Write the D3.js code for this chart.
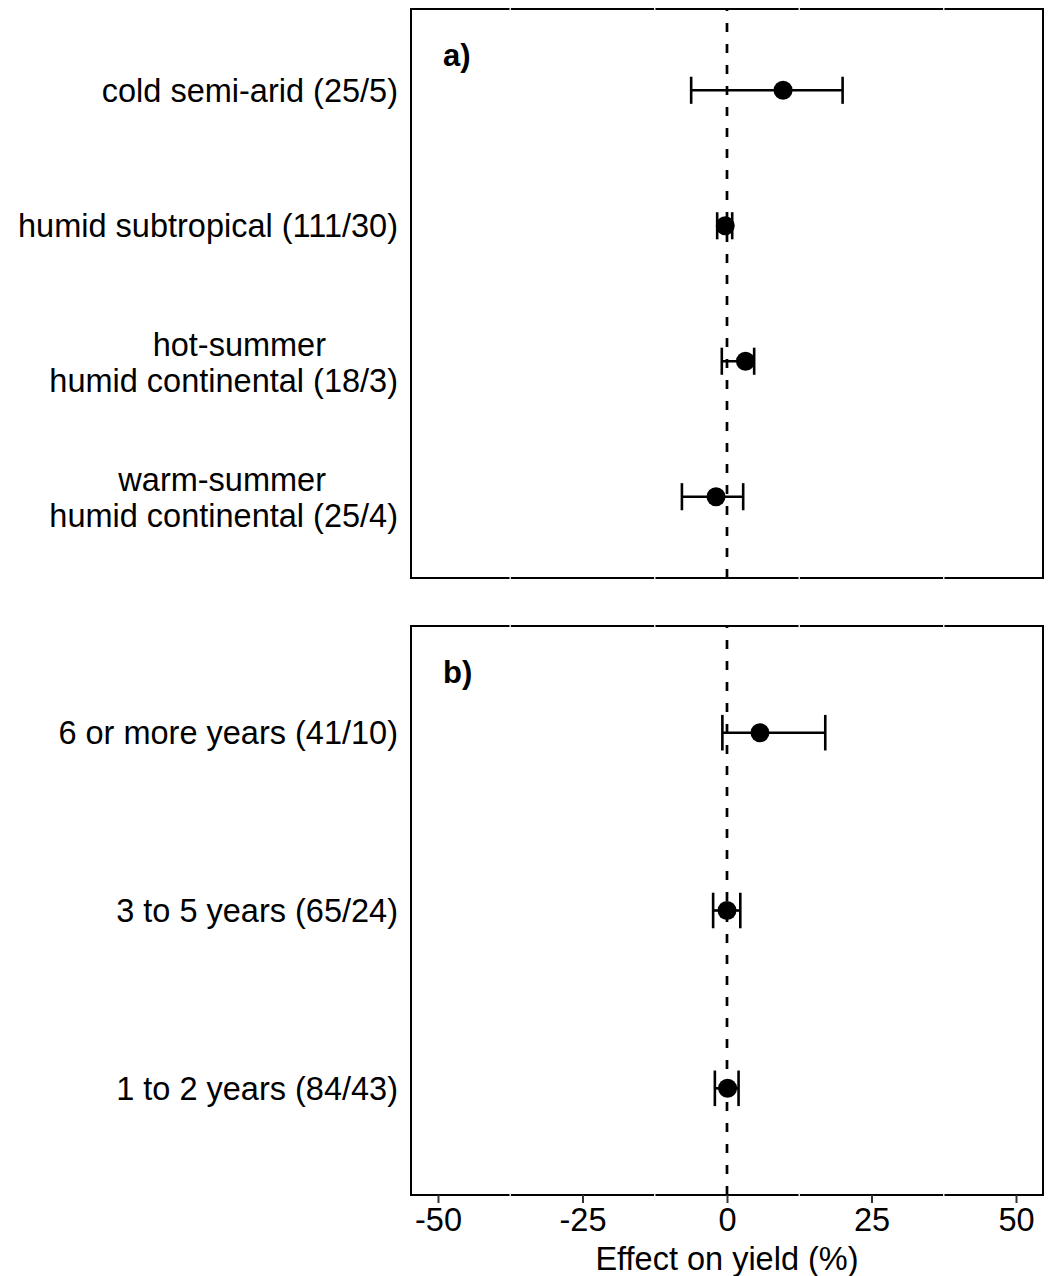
<!DOCTYPE html>
<html>
<head>
<meta charset="utf-8">
<script src="https://cdn.jsdelivr.net/npm/d3@7"></script>
<style>
  body { margin: 0; background: #fff; }
  svg text { font-family: "Liberation Sans", Arial, sans-serif; fill: #000; }
</style>
</head>
<body>
<svg id="chart" width="1049" height="1276"></svg>
<script>
// panel a: climate zones
const climateLabels = ["cold semi-arid (25/5)", "humid subtropical (111/30)",
    "hot-summer\nhumid continental (18/3)", "warm-summer\nhumid continental (25/4)"];
const climateMean = [9.7, -0.3, 3.2, -1.9];
const climateLow = [-6.2, -1.7, -0.9, -7.8];
const climateHigh = [20.0, 0.9, 4.7, 2.8];

// panel b: duration
const durationLabels = ["6 or more years (41/10)", "3 to 5 years (65/24)", "1 to 2 years (84/43)"];
const durationMean = [5.7, 0.0, 0.1];
const durationLow = [-0.8, -2.4, -2.1];
const durationHigh = [17.0, 2.3, 2.0];

const xTicks = [-50, -25, 0, 25, 50];
const xMinor = [-37.5, -12.5, 12.5, 37.5];

let svg = d3.select("#chart");
let left = 411, right = 1043;
let fs = 32.5;
let x = d3.scaleLinear().domain([-54.67, 54.67]).range([left, right]);

function drawPanel(top, bottom, labels, mean, low, high, tag, showAxis) {
    let y = d3.scalePoint().domain(labels).range([top, bottom]).padding(0.6);
    let cap = y.step() * 0.1;
    let g = svg.append("g");

    // zero reference line
    g.append("line")
        .attr("x1", x(0)).attr("x2", x(0))
        .attr("y1", bottom).attr("y2", top)
        .attr("stroke", "#000").attr("stroke-width", 2.7)
        .attr("stroke-dasharray", "9,12");

    let rows = labels.map((l, i) => ({label: l, m: mean[i], lo: low[i], hi: high[i]}));

    // error bars
    let eb = g.selectAll(".eb").data(rows).enter().append("g").attr("class", "eb");
    eb.append("line")
        .attr("x1", d => x(d.lo)).attr("x2", d => x(d.hi))
        .attr("y1", d => y(d.label)).attr("y2", d => y(d.label))
        .attr("stroke", "#000").attr("stroke-width", 2.6);
    eb.append("line")
        .attr("x1", d => x(d.lo)).attr("x2", d => x(d.lo))
        .attr("y1", d => y(d.label) - cap).attr("y2", d => y(d.label) + cap)
        .attr("stroke", "#000").attr("stroke-width", 2.6);
    eb.append("line")
        .attr("x1", d => x(d.hi)).attr("x2", d => x(d.hi))
        .attr("y1", d => y(d.label) - cap).attr("y2", d => y(d.label) + cap)
        .attr("stroke", "#000").attr("stroke-width", 2.6);

    g.selectAll("circle").data(rows).enter().append("circle")
        .attr("cx", d => x(d.m)).attr("cy", d => y(d.label)).attr("r", 9.5)
        .attr("fill", "#000");

    // border
    g.append("rect")
        .attr("x", left).attr("y", top)
        .attr("width", right - left).attr("height", bottom - top)
        .attr("fill", "none").attr("stroke", "#000").attr("stroke-width", 2);
    // faint minor gridline marks showing through the border
    [top, bottom].forEach(function (yy) {
        g.selectAll(null).data(xMinor).enter().append("line")
            .attr("x1", d => x(d)).attr("x2", d => x(d))
            .attr("y1", yy - 1.5).attr("y2", yy + 1.5)
            .attr("stroke", "#e6e6e6").attr("stroke-width", 1.5);
    });

    // category labels
    rows.forEach(function (d) {
        let parts = d.label.split("\n");
        let cy = y(d.label);
        if (parts.length === 1) {
            g.append("text").attr("x", 398).attr("y", cy).attr("dy", "0.36em")
                .attr("text-anchor", "end").attr("font-size", fs).text(parts[0]);
        } else {
            g.append("text").attr("x", 326).attr("y", cy - 17).attr("dy", "0.36em")
                .attr("text-anchor", "end").attr("font-size", fs).text(parts[0]);
            g.append("text").attr("x", 398).attr("y", cy + 19).attr("dy", "0.36em")
                .attr("text-anchor", "end").attr("font-size", fs).text(parts[1]);
        }
    });

    g.append("text").attr("x", 443).attr("y", top + 46).attr("dy", "0.36em")
        .attr("font-size", 31).attr("font-weight", "bold").text(tag);

    if (showAxis) {
        let axis = d3.axisBottom(x).tickValues(xTicks).tickSize(8).tickPadding(5)
            .tickFormat(d => String(d));
        let ag = svg.append("g").attr("transform", "translate(0," + bottom + ")").call(axis);
        ag.select(".domain").remove();
        ag.selectAll(".tick line").attr("stroke", "#333").attr("stroke-width", 2);
        ag.selectAll(".tick text").attr("font-size", fs).attr("fill", "#000")
            .style("font-family", "'Liberation Sans', Arial, sans-serif");
        svg.append("text").attr("x", x(0)).attr("y", 1258).attr("dy", "0.36em")
            .attr("text-anchor", "middle").attr("font-size", fs).text("Effect on yield (%)");
    }
}

drawPanel(9, 578, climateLabels, climateMean, climateLow, climateHigh, "a)", false);
drawPanel(626, 1195, durationLabels, durationMean, durationLow, durationHigh, "b)", true);
</script>
</body>
</html>
